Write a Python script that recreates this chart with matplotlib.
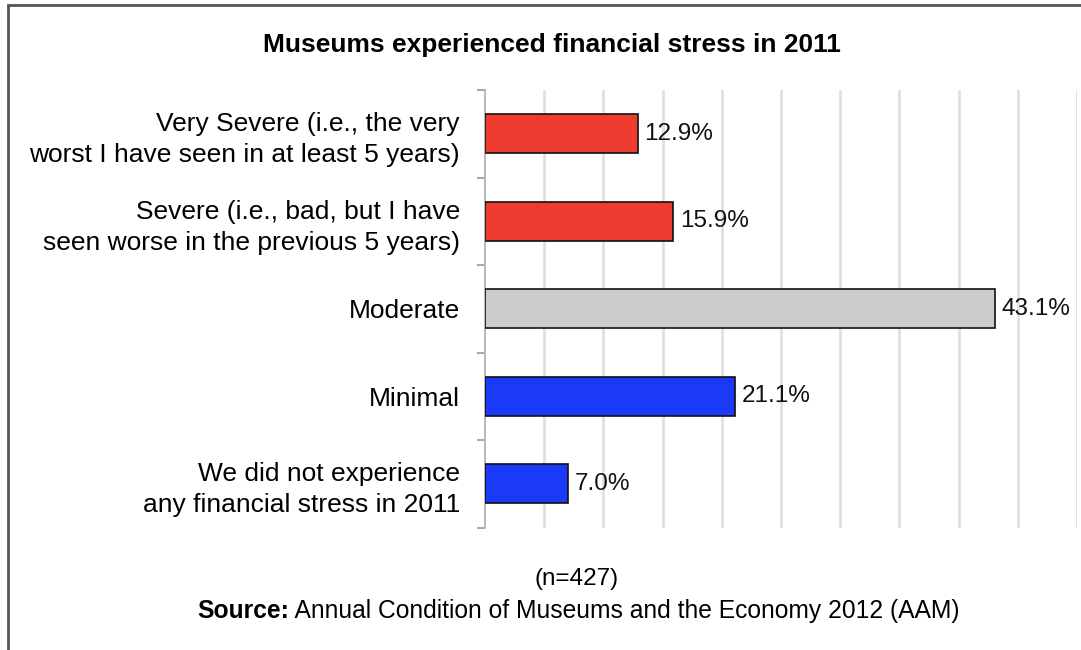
import matplotlib
matplotlib.use("Agg")
import matplotlib.pyplot as plt
from matplotlib.patches import Rectangle
import numpy as np

plt.rcParams['font.family'] = ['Liberation Sans', 'DejaVu Sans']

categories = [
    "Very Severe (i.e., the very\nworst I have seen in at least 5 years)",
    "Severe (i.e., bad, but I have\nseen worse in the previous 5 years)",
    "Moderate",
    "Minimal",
    "We did not experience\nany financial stress in 2011",
]
values = [12.9, 15.9, 43.1, 21.1, 7.0]
value_labels = ["12.9%", "15.9%", "43.1%", "21.1%", "7.0%"]
colors = ["#EE3D30", "#EE3D30", "#CCCCCC", "#1B3AF5", "#1B3AF5"]
title = "Museums experienced financial stress in 2011"
note = "(n=427)"
source_bold = "Source:"
source_rest = " Annual Condition of Museums and the Economy 2012 (AAM)"

W, H = 1081, 650
fig = plt.figure(figsize=(W / 100, H / 100), dpi=100)

# outer border
fig.patches.append(Rectangle((8 / W, -0.1), 1.2, 1 - 5 / H + 0.1, transform=fig.transFigure,
                             fill=False, edgecolor="#555555", linewidth=2, zorder=0))

ax = fig.add_axes([485 / W, 1 - 527.5 / H, (1077 - 485) / W, (527.5 - 90) / H])
y = np.arange(len(categories))
ax.barh(y, values, height=0.45, color=colors, edgecolor="#111111", linewidth=1.2, zorder=3)
ax.set_ylim(len(categories) - 0.5, -0.5)
ax.set_xlim(0, 50)

for yi, v, lab in zip(y, values, value_labels):
    ax.text(v + 0.55, yi, lab, va="center", ha="left", fontsize=17.5, color="#111111")

ax.set_xticks(np.arange(5, 51, 5))
ax.set_xticklabels([])
ax.tick_params(axis="x", length=0)
ax.grid(axis="x", color="#E0E0E0", linewidth=2, zorder=0)

ax.set_yticks(y)
ax.set_yticklabels(categories, fontsize=19, linespacing=1.38)
ax.tick_params(axis="y", which="major", length=0, pad=18)
ax.set_yticks(np.arange(-0.5, len(categories), 1), minor=True)
ax.tick_params(axis="y", which="minor", length=6, color="#AAAAAA", width=1.5)

for s in ["top", "right", "bottom"]:
    ax.spines[s].set_visible(False)
ax.spines["left"].set_color("#BBBBBB")
ax.spines["left"].set_linewidth(1.5)

fig.text(552 / W, 1 - 45 / H, title, ha="center", va="center", fontsize=19, fontweight="bold")
fig.text(577 / W, 1 - 579 / H, note, ha="center", va="center", fontsize=17.5)

# Source line: bold part + regular part, centered together
renderer = fig.canvas.get_renderer()
t1 = fig.text(0, 1 - 611 / H, source_bold, ha="left", va="center", fontsize=17.7, fontweight="bold")
t2 = fig.text(0, 1 - 611 / H, source_rest, ha="left", va="center", fontsize=17.7)
w1 = t1.get_window_extent(renderer).width
w2 = t2.get_window_extent(renderer).width
x0 = 578 - (w1 + w2) / 2
t1.set_x(x0 / W)
t2.set_x((x0 + w1) / W)

fig.savefig("out.png", dpi=100)
